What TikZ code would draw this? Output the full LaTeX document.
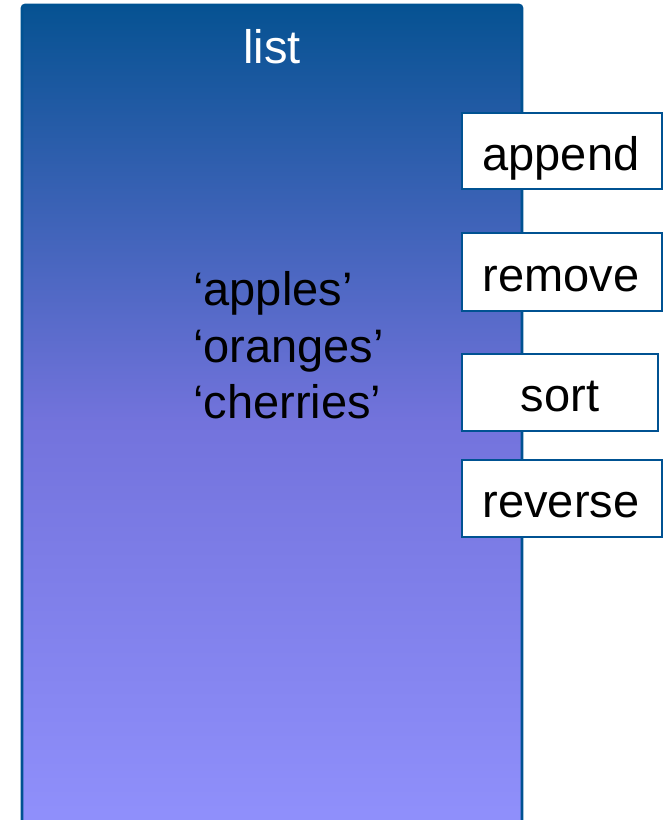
\documentclass[tikz,border=0pt]{standalone}
\usepackage{fontspec}
\setmainfont{Liberation Sans}
\definecolor{edgeblue}{RGB}{0,82,146}
\definecolor{topblue}{RGB}{6,82,146}
\definecolor{midblue}{RGB}{115,115,220}
\definecolor{botblue}{RGB}{145,145,253}
\tikzset{
  method/.style={draw=edgeblue, line width=1.6pt, fill=white, inner sep=0pt},
  mtext/.style={anchor=base, font=\fontsize{47}{56}\selectfont, text=black},
  item/.style={anchor=base west, font=\fontsize{47}{56}\selectfont, inner sep=0pt},
}
\begin{document}
\begin{tikzpicture}[x=1pt,y=1pt]
\useasboundingbox (0,0) rectangle (663,-820);
\clip (0,0) rectangle (663,-820);
% big list container
\shade[top color=topblue, bottom color=botblue, middle color=midblue]
  (22,-840) -- (22,-8) [rounded corners=3pt] -- (22,-5) -- (522,-5) [sharp corners] -- (522,-840) -- cycle;
\draw[edgeblue, line width=2.6pt, rounded corners=3pt] (22,-840) -- (22,-5) -- (522,-5) -- (522,-840);
\node[mtext, text=white] (title) at (272,-63) {list};
\node[item] (apples) at (193,-305) {‘apples’};
\node[item] (oranges) at (193,-362) {‘oranges’};
\node[item] (cherries) at (193,-418) {‘cherries’};
% methods
\path[method] (462,-113) rectangle (662,-189);
\node[mtext] (append) at (561,-170) {append};
\path[method] (462,-233) rectangle (662,-311);
\node[mtext] (remove) at (561,-291) {remove};
\path[method] (462,-354) rectangle (658,-431);
\node[mtext] (sort) at (560,-411) {sort};
\path[method] (462,-460) rectangle (662,-537);
\node[mtext] (reverse) at (561,-517) {reverse};
\end{tikzpicture}
\end{document}
